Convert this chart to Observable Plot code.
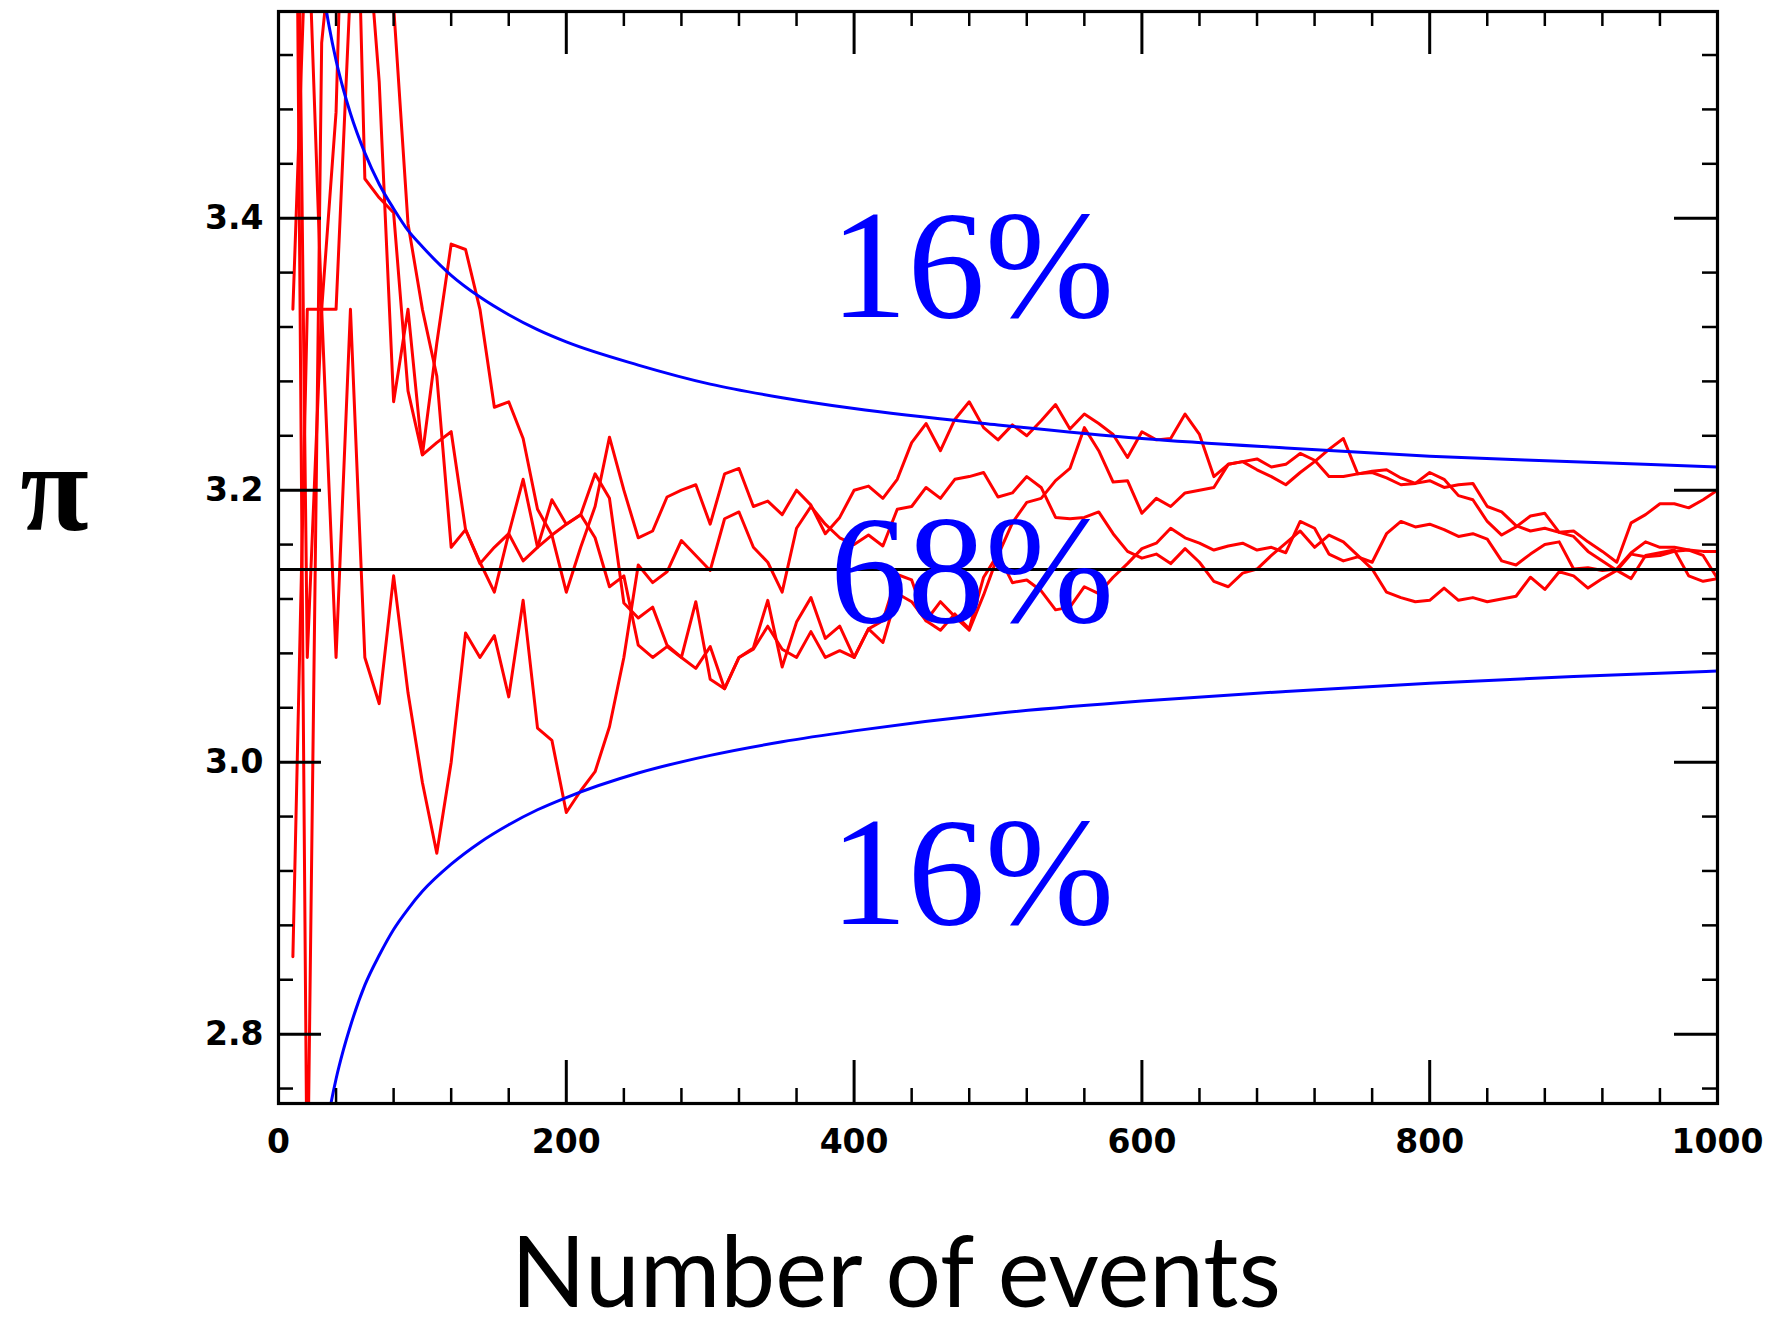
<!DOCTYPE html>
<html>
<head>
<meta charset="utf-8">
<script src="https://cdn.jsdelivr.net/npm/d3@7"></script>
<script src="https://cdn.jsdelivr.net/npm/@observablehq/plot@0.6"></script>
<style>
html, body { margin: 0; padding: 0; background: #ffffff; }
#chart svg { display: block; }
</style>
</head>
<body>
<div id="chart"></div>
<script>
// ---- data ----
const events = [10,20,30,40,50,60,70,80,90,100,110,120,130,140,150,160,170,180,190,200,
  210,220,230,240,250,260,270,280,290,300,310,320,330,340,350,360,370,380,390,400,
  410,420,430,440,450,460,470,480,490,500,510,520,530,540,550,560,570,580,590,600,
  610,620,630,640,650,660,670,680,690,700,710,720,730,740,750,760,770,780,790,800,
  810,820,830,840,850,860,870,880,890,900,910,920,930,940,950,960,970,980,990,1000];

const runA = [3.333,3.636,3.333,3.333,3.571,3.636,3.500,3.265,3.333,3.226,
  3.308,3.381,3.377,3.333,3.261,3.265,3.238,3.186,3.167,3.125,
  3.158,3.188,3.239,3.200,3.165,3.170,3.195,3.200,3.204,3.175,
  3.212,3.216,3.188,3.192,3.182,3.200,3.189,3.168,3.180,3.200,
  3.203,3.194,3.208,3.235,3.249,3.229,3.252,3.265,3.246,3.237,
  3.248,3.240,3.251,3.263,3.245,3.256,3.249,3.241,3.224,3.243,
  3.237,3.238,3.256,3.241,3.210,3.219,3.221,3.223,3.217,3.219,
  3.227,3.222,3.210,3.210,3.212,3.214,3.215,3.209,3.205,3.213,
  3.208,3.196,3.193,3.177,3.167,3.173,3.181,3.183,3.169,3.170,
  3.162,3.155,3.147,3.176,3.182,3.190,3.190,3.187,3.193,3.200];

const runB = [2.857,3.333,3.333,3.077,3.333,3.077,3.043,3.137,3.051,2.985,
  2.933,3.000,3.095,3.077,3.093,3.048,3.119,3.025,3.016,2.963,
  2.979,2.993,3.026,3.077,3.145,3.132,3.140,3.163,3.152,3.141,
  3.179,3.184,3.158,3.147,3.125,3.172,3.188,3.175,3.165,3.160,
  3.167,3.159,3.186,3.188,3.202,3.194,3.208,3.210,3.213,3.195,
  3.198,3.210,3.202,3.180,3.179,3.180,3.184,3.168,3.155,3.150,
  3.153,3.146,3.157,3.147,3.133,3.129,3.139,3.142,3.152,3.161,
  3.170,3.158,3.167,3.162,3.152,3.142,3.125,3.121,3.118,3.119,
  3.128,3.119,3.121,3.118,3.120,3.122,3.136,3.127,3.140,3.137,
  3.128,3.135,3.141,3.153,3.151,3.152,3.155,3.156,3.155,3.155];

const runC = [4.000,2.667,3.529,3.636,3.704,3.636,3.684,3.556,3.396,3.333,
  3.284,3.158,3.171,3.146,3.158,3.168,3.208,3.158,3.167,3.175,
  3.182,3.212,3.194,3.117,3.106,3.114,3.086,3.077,3.118,3.061,
  3.054,3.077,3.084,3.119,3.070,3.103,3.121,3.091,3.100,3.077,
  3.098,3.088,3.124,3.118,3.104,3.118,3.107,3.097,3.123,3.152,
  3.176,3.191,3.194,3.207,3.216,3.246,3.229,3.206,3.207,3.183,
  3.194,3.188,3.198,3.200,3.202,3.219,3.221,3.215,3.210,3.204,
  3.213,3.221,3.230,3.238,3.212,3.213,3.209,3.204,3.205,3.207,
  3.202,3.204,3.205,3.188,3.184,3.174,3.170,3.172,3.169,3.166,
  3.155,3.148,3.141,3.135,3.152,3.154,3.156,3.137,3.133,3.135];

const runD = [4.000,3.077,3.333,3.478,3.846,3.429,3.415,3.404,3.273,3.226,
  3.235,3.243,3.171,3.147,3.125,3.168,3.148,3.158,3.193,3.175,
  3.182,3.165,3.129,3.137,3.086,3.077,3.085,3.077,3.069,3.085,
  3.054,3.077,3.083,3.100,3.083,3.077,3.096,3.077,3.082,3.077,
  3.098,3.104,3.138,3.134,3.104,3.097,3.109,3.098,3.136,3.153,
  3.132,3.134,3.126,3.112,3.114,3.129,3.124,3.136,3.146,3.157,
  3.161,3.172,3.165,3.161,3.156,3.159,3.161,3.156,3.158,3.154,
  3.177,3.172,3.153,3.148,3.151,3.147,3.168,3.177,3.173,3.175,
  3.171,3.166,3.168,3.164,3.148,3.145,3.153,3.160,3.162,3.142,
  3.143,3.141,3.142,3.154,3.162,3.158,3.158,3.156,3.152,3.135];

const bandEvents = [30,35,40,45,50,60,70,80,90,100,120,140,160,180,200,250,300,350,400,500,600,700,800,900,1000];
const bandUpper  = [3.574,3.542,3.516,3.495,3.477,3.448,3.425,3.407,3.391,3.379,3.358,3.342,3.329,3.318,3.309,3.292,3.278,3.268,3.260,3.248,3.238,3.231,3.225,3.221,3.217];
const bandLower  = [2.709,2.741,2.767,2.788,2.806,2.836,2.858,2.877,2.892,2.905,2.925,2.941,2.954,2.965,2.974,2.992,3.005,3.015,3.023,3.036,3.045,3.052,3.058,3.063,3.067];

const piValue = 3.14159;

const xTickLabels = [0, 200, 400, 600, 800, 1000];
const xMinorTicks = [40,80,120,160,240,280,320,360,440,480,520,560,640,680,720,760,840,880,920,960];
const yTickLabels = [2.8, 3.0, 3.2, 3.4];
const yMinorTicks = [2.76,2.84,2.88,2.92,2.96,3.04,3.08,3.12,3.16,3.24,3.28,3.32,3.36,3.44,3.48,3.52];

const regionLabels = ["16%", "68%", "16%"];
const regionEvents = [482, 482, 482];
const regionValues = [3.327, 3.103, 2.881];

const yTitle = "π";
const yTitleValue = 3.2;
const xTitle = "Number of events";

// ---- build tables ----
const runs = [runA, runB, runC, runD];
const lineData = runs.flatMap((r, k) => r.map((v, i) => ({run: k, n: events[i], v})));
const upperData = bandEvents.map((n, i) => ({n, v: bandUpper[i]}));
const lowerData = bandEvents.map((n, i) => ({n, v: bandLower[i]}));

const W = 1777, H = 1328;
const mL = 278, mR = 60, mT = 11, mB = 225;
const fw = W - mL - mR;
const fh = H - mT - mB;
const majorLen = 43, minorLen = 15;
const tickFont = "DejaVu Sans";

const chart = Plot.plot({
  width: W,
  height: H,
  marginLeft: mL, marginRight: mR, marginTop: mT, marginBottom: mB,
  x: {domain: [0, 1000], axis: null},
  y: {domain: [2.749, 3.552], axis: null},
  style: {background: "#ffffff", color: "black", overflow: "visible"},
  marks: [
    Plot.line(lineData, {x: "n", y: "v", z: "run", stroke: "#ff0000", strokeWidth: 3, clip: true}),
    Plot.line(upperData, {x: "n", y: "v", stroke: "#0000ff", strokeWidth: 3, curve: "monotone-x", clip: true}),
    Plot.line(lowerData, {x: "n", y: "v", stroke: "#0000ff", strokeWidth: 3, curve: "monotone-x", clip: true}),
    Plot.ruleY([piValue], {stroke: "black", strokeWidth: 3}),
    Plot.text(regionLabels, {
      x: (d, i) => regionEvents[i], y: (d, i) => regionValues[i], text: d => d,
      fill: "#0000ff", fontSize: 155, fontFamily: "Liberation Serif",
      textAnchor: "middle", lineAnchor: "bottom"
    }),
    // inward ticks on all four sides
    Plot.tickX(xTickLabels, {x: d => d, insetTop: fh - majorLen, stroke: "black", strokeWidth: 3}),
    Plot.tickX(xMinorTicks, {x: d => d, insetTop: fh - minorLen, stroke: "black", strokeWidth: 2.5}),
    Plot.tickX(xTickLabels, {x: d => d, insetBottom: fh - majorLen, stroke: "black", strokeWidth: 3}),
    Plot.tickX(xMinorTicks, {x: d => d, insetBottom: fh - minorLen, stroke: "black", strokeWidth: 2.5}),
    Plot.tickY(yTickLabels, {y: d => d, insetRight: fw - majorLen, stroke: "black", strokeWidth: 3}),
    Plot.tickY(yMinorTicks, {y: d => d, insetRight: fw - minorLen, stroke: "black", strokeWidth: 2.5}),
    Plot.tickY(yTickLabels, {y: d => d, insetLeft: fw - majorLen, stroke: "black", strokeWidth: 3}),
    Plot.tickY(yMinorTicks, {y: d => d, insetLeft: fw - minorLen, stroke: "black", strokeWidth: 2.5}),
    Plot.frame({stroke: "black", strokeWidth: 3.2}),
    // tick labels
    Plot.text(xTickLabels, {
      x: d => d, frameAnchor: "bottom", dy: 39, text: d => String(d),
      lineAnchor: "middle", textAnchor: "middle",
      fontSize: 33, fontFamily: tickFont, fontWeight: "bold", fill: "black"
    }),
    Plot.text(yTickLabels, {
      y: d => d, frameAnchor: "left", dx: -15, text: d => d.toFixed(1),
      lineAnchor: "middle", textAnchor: "end",
      fontSize: 33, fontFamily: tickFont, fontWeight: "bold", fill: "black"
    }),
    // axis titles
    Plot.text([yTitle], {
      y: [yTitleValue], frameAnchor: "left", dx: -224, text: d => d,
      lineAnchor: "middle", textAnchor: "middle",
      fontSize: 125, fontFamily: "Liberation Serif", fontWeight: "bold", fill: "black"
    }),
    Plot.text([xTitle], {
      frameAnchor: "bottom", dx: -102, dy: 203, text: d => d,
      lineAnchor: "bottom", textAnchor: "middle",
      fontSize: 98, fontFamily: "Lato", fill: "black"
    })
  ]
});

document.getElementById("chart").append(chart);
</script>
</body>
</html>
